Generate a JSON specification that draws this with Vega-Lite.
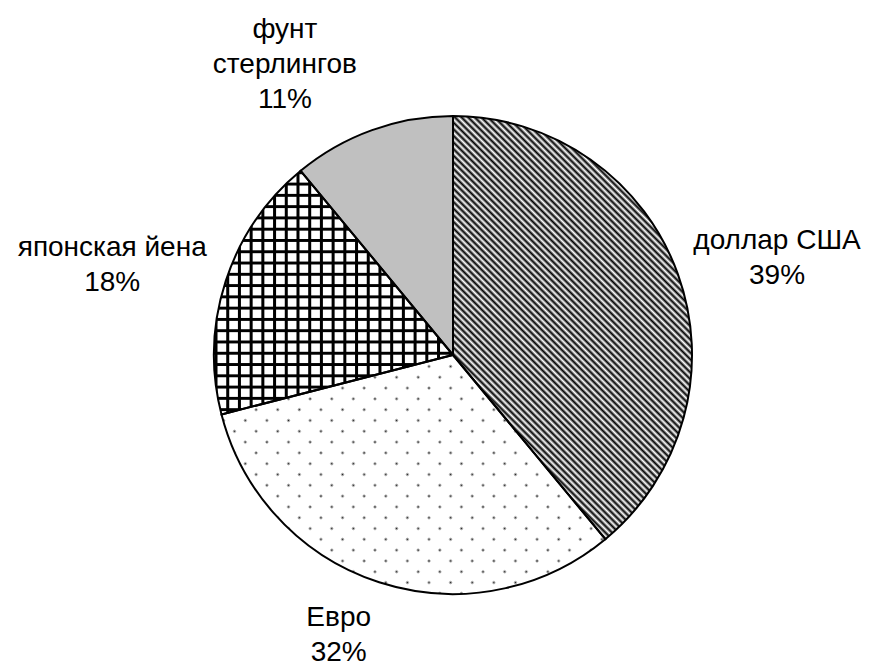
{
"$schema":"https://vega.github.io/schema/vega-lite/v6.json",
"width":478,"height":478,
"autosize":{"type":"none"},
"padding":{"left":214,"top":116,"right":177,"bottom":72},
"background":"#ffffff",
"view":{"stroke":null},
"data":{"values":[
{"currency":"доллар США","share":39,"order":1,"label":"доллар США\n39%"},
{"currency":"Евро","share":32,"order":2,"label":"Евро\n32%"},
{"currency":"японская йена","share":18,"order":3,"label":"японская йена\n18%"},
{"currency":"фунт стерлингов","share":11,"order":4,"label":"фунт\nстерлингов\n11%"}
]},
"encoding":{
"theta":{"field":"share","type":"quantitative","stack":true},
"order":{"field":"order","type":"quantitative"}
},
"layer":[
{"mark":{"type":"arc","stroke":null},
"encoding":{"fill":{"field":"currency","type":"nominal","legend":null,"scale":{"domain":["доллар США","Евро","японская йена","фунт стерлингов"],"range":["#ffffff","#ffffff","#ffffff","#c0c0c0"]}}}},
{"mark":{"type":"arc","stroke":null,"fill":{"gradient":"linear","x1":0,"y1":1,"x2":0.67,"y2":-0.1864,"stops":[
{"offset":0,"color":"#000"},{"offset":0.005,"color":"#fff"},{"offset":0.01,"color":"#000"},{"offset":0.015,"color":"#fff"},{"offset":0.02,"color":"#000"},{"offset":0.025,"color":"#fff"},{"offset":0.03,"color":"#000"},{"offset":0.035,"color":"#fff"},{"offset":0.04,"color":"#000"},{"offset":0.045,"color":"#fff"},
{"offset":0.05,"color":"#000"},{"offset":0.055,"color":"#fff"},{"offset":0.06,"color":"#000"},{"offset":0.065,"color":"#fff"},{"offset":0.07,"color":"#000"},{"offset":0.075,"color":"#fff"},{"offset":0.08,"color":"#000"},{"offset":0.085,"color":"#fff"},{"offset":0.09,"color":"#000"},{"offset":0.095,"color":"#fff"},
{"offset":0.1,"color":"#000"},{"offset":0.105,"color":"#fff"},{"offset":0.11,"color":"#000"},{"offset":0.115,"color":"#fff"},{"offset":0.12,"color":"#000"},{"offset":0.125,"color":"#fff"},{"offset":0.13,"color":"#000"},{"offset":0.135,"color":"#fff"},{"offset":0.14,"color":"#000"},{"offset":0.145,"color":"#fff"},
{"offset":0.15,"color":"#000"},{"offset":0.155,"color":"#fff"},{"offset":0.16,"color":"#000"},{"offset":0.165,"color":"#fff"},{"offset":0.17,"color":"#000"},{"offset":0.175,"color":"#fff"},{"offset":0.18,"color":"#000"},{"offset":0.185,"color":"#fff"},{"offset":0.19,"color":"#000"},{"offset":0.195,"color":"#fff"},
{"offset":0.2,"color":"#000"},{"offset":0.205,"color":"#fff"},{"offset":0.21,"color":"#000"},{"offset":0.215,"color":"#fff"},{"offset":0.22,"color":"#000"},{"offset":0.225,"color":"#fff"},{"offset":0.23,"color":"#000"},{"offset":0.235,"color":"#fff"},{"offset":0.24,"color":"#000"},{"offset":0.245,"color":"#fff"},
{"offset":0.25,"color":"#000"},{"offset":0.255,"color":"#fff"},{"offset":0.26,"color":"#000"},{"offset":0.265,"color":"#fff"},{"offset":0.27,"color":"#000"},{"offset":0.275,"color":"#fff"},{"offset":0.28,"color":"#000"},{"offset":0.285,"color":"#fff"},{"offset":0.29,"color":"#000"},{"offset":0.295,"color":"#fff"},
{"offset":0.3,"color":"#000"},{"offset":0.305,"color":"#fff"},{"offset":0.31,"color":"#000"},{"offset":0.315,"color":"#fff"},{"offset":0.32,"color":"#000"},{"offset":0.325,"color":"#fff"},{"offset":0.33,"color":"#000"},{"offset":0.335,"color":"#fff"},{"offset":0.34,"color":"#000"},{"offset":0.345,"color":"#fff"},
{"offset":0.35,"color":"#000"},{"offset":0.355,"color":"#fff"},{"offset":0.36,"color":"#000"},{"offset":0.365,"color":"#fff"},{"offset":0.37,"color":"#000"},{"offset":0.375,"color":"#fff"},{"offset":0.38,"color":"#000"},{"offset":0.385,"color":"#fff"},{"offset":0.39,"color":"#000"},{"offset":0.395,"color":"#fff"},
{"offset":0.4,"color":"#000"},{"offset":0.405,"color":"#fff"},{"offset":0.41,"color":"#000"},{"offset":0.415,"color":"#fff"},{"offset":0.42,"color":"#000"},{"offset":0.425,"color":"#fff"},{"offset":0.43,"color":"#000"},{"offset":0.435,"color":"#fff"},{"offset":0.44,"color":"#000"},{"offset":0.445,"color":"#fff"},
{"offset":0.45,"color":"#000"},{"offset":0.455,"color":"#fff"},{"offset":0.46,"color":"#000"},{"offset":0.465,"color":"#fff"},{"offset":0.47,"color":"#000"},{"offset":0.475,"color":"#fff"},{"offset":0.48,"color":"#000"},{"offset":0.485,"color":"#fff"},{"offset":0.49,"color":"#000"},{"offset":0.495,"color":"#fff"},
{"offset":0.5,"color":"#000"},{"offset":0.505,"color":"#fff"},{"offset":0.51,"color":"#000"},{"offset":0.515,"color":"#fff"},{"offset":0.52,"color":"#000"},{"offset":0.525,"color":"#fff"},{"offset":0.53,"color":"#000"},{"offset":0.535,"color":"#fff"},{"offset":0.54,"color":"#000"},{"offset":0.545,"color":"#fff"},
{"offset":0.55,"color":"#000"},{"offset":0.555,"color":"#fff"},{"offset":0.56,"color":"#000"},{"offset":0.565,"color":"#fff"},{"offset":0.57,"color":"#000"},{"offset":0.575,"color":"#fff"},{"offset":0.58,"color":"#000"},{"offset":0.585,"color":"#fff"},{"offset":0.59,"color":"#000"},{"offset":0.595,"color":"#fff"},
{"offset":0.6,"color":"#000"},{"offset":0.605,"color":"#fff"},{"offset":0.61,"color":"#000"},{"offset":0.615,"color":"#fff"},{"offset":0.62,"color":"#000"},{"offset":0.625,"color":"#fff"},{"offset":0.63,"color":"#000"},{"offset":0.635,"color":"#fff"},{"offset":0.64,"color":"#000"},{"offset":0.645,"color":"#fff"},
{"offset":0.65,"color":"#000"},{"offset":0.655,"color":"#fff"},{"offset":0.66,"color":"#000"},{"offset":0.665,"color":"#fff"},{"offset":0.67,"color":"#000"},{"offset":0.675,"color":"#fff"},{"offset":0.68,"color":"#000"},{"offset":0.685,"color":"#fff"},{"offset":0.69,"color":"#000"},{"offset":0.695,"color":"#fff"},
{"offset":0.7,"color":"#000"},{"offset":0.705,"color":"#fff"},{"offset":0.71,"color":"#000"},{"offset":0.715,"color":"#fff"},{"offset":0.72,"color":"#000"},{"offset":0.725,"color":"#fff"},{"offset":0.73,"color":"#000"},{"offset":0.735,"color":"#fff"},{"offset":0.74,"color":"#000"},{"offset":0.745,"color":"#fff"},
{"offset":0.75,"color":"#000"},{"offset":0.755,"color":"#fff"},{"offset":0.76,"color":"#000"},{"offset":0.765,"color":"#fff"},{"offset":0.77,"color":"#000"},{"offset":0.775,"color":"#fff"},{"offset":0.78,"color":"#000"},{"offset":0.785,"color":"#fff"},{"offset":0.79,"color":"#000"},{"offset":0.795,"color":"#fff"},
{"offset":0.8,"color":"#000"},{"offset":0.805,"color":"#fff"},{"offset":0.81,"color":"#000"},{"offset":0.815,"color":"#fff"},{"offset":0.82,"color":"#000"},{"offset":0.825,"color":"#fff"},{"offset":0.83,"color":"#000"},{"offset":0.835,"color":"#fff"},{"offset":0.84,"color":"#000"},{"offset":0.845,"color":"#fff"},
{"offset":0.85,"color":"#000"},{"offset":0.855,"color":"#fff"},{"offset":0.86,"color":"#000"},{"offset":0.865,"color":"#fff"},{"offset":0.87,"color":"#000"},{"offset":0.875,"color":"#fff"},{"offset":0.88,"color":"#000"},{"offset":0.885,"color":"#fff"},{"offset":0.89,"color":"#000"},{"offset":0.895,"color":"#fff"},
{"offset":0.9,"color":"#000"},{"offset":0.905,"color":"#fff"},{"offset":0.91,"color":"#000"},{"offset":0.915,"color":"#fff"},{"offset":0.92,"color":"#000"},{"offset":0.925,"color":"#fff"},{"offset":0.93,"color":"#000"},{"offset":0.935,"color":"#fff"},{"offset":0.94,"color":"#000"},{"offset":0.945,"color":"#fff"},
{"offset":0.95,"color":"#000"},{"offset":0.955,"color":"#fff"},{"offset":0.96,"color":"#000"},{"offset":0.965,"color":"#fff"},{"offset":0.97,"color":"#000"},{"offset":0.975,"color":"#fff"},{"offset":0.98,"color":"#000"},{"offset":0.985,"color":"#fff"},{"offset":0.99,"color":"#000"},{"offset":0.995,"color":"#fff"},
{"offset":1,"color":"#000"}]}},
"encoding":{"opacity":{"condition":{"test":"datum.currency === 'доллар США'","value":1},"value":0}}},
{"mark":{"type":"arc","stroke":null,"fill":{"gradient":"linear","x1":0,"y1":1,"x2":1.1693,"y2":0.2719,"stops":[
{"offset":0,"color":"#fff"},{"offset":0.0045,"color":"#222"},{"offset":0.009,"color":"#fff"},
{"offset":0.0347,"color":"#fff"},{"offset":0.0392,"color":"#222"},{"offset":0.0437,"color":"#fff"},
{"offset":0.0694,"color":"#fff"},{"offset":0.0739,"color":"#222"},{"offset":0.0784,"color":"#fff"},
{"offset":0.1041,"color":"#fff"},{"offset":0.1086,"color":"#222"},{"offset":0.1131,"color":"#fff"},
{"offset":0.1388,"color":"#fff"},{"offset":0.1433,"color":"#222"},{"offset":0.1478,"color":"#fff"},
{"offset":0.1735,"color":"#fff"},{"offset":0.178,"color":"#222"},{"offset":0.1825,"color":"#fff"},
{"offset":0.2082,"color":"#fff"},{"offset":0.2127,"color":"#222"},{"offset":0.2172,"color":"#fff"},
{"offset":0.2429,"color":"#fff"},{"offset":0.2474,"color":"#222"},{"offset":0.2519,"color":"#fff"},
{"offset":0.2776,"color":"#fff"},{"offset":0.2821,"color":"#222"},{"offset":0.2866,"color":"#fff"},
{"offset":0.3123,"color":"#fff"},{"offset":0.3168,"color":"#222"},{"offset":0.3213,"color":"#fff"},
{"offset":0.347,"color":"#fff"},{"offset":0.3515,"color":"#222"},{"offset":0.356,"color":"#fff"},
{"offset":0.3817,"color":"#fff"},{"offset":0.3862,"color":"#222"},{"offset":0.3907,"color":"#fff"},
{"offset":0.4164,"color":"#fff"},{"offset":0.4209,"color":"#222"},{"offset":0.4254,"color":"#fff"},
{"offset":0.4511,"color":"#fff"},{"offset":0.4556,"color":"#222"},{"offset":0.4601,"color":"#fff"},
{"offset":0.4858,"color":"#fff"},{"offset":0.4903,"color":"#222"},{"offset":0.4948,"color":"#fff"},
{"offset":0.5205,"color":"#fff"},{"offset":0.525,"color":"#222"},{"offset":0.5295,"color":"#fff"},
{"offset":0.5552,"color":"#fff"},{"offset":0.5597,"color":"#222"},{"offset":0.5642,"color":"#fff"},
{"offset":0.5899,"color":"#fff"},{"offset":0.5944,"color":"#222"},{"offset":0.5989,"color":"#fff"},
{"offset":0.6246,"color":"#fff"},{"offset":0.6291,"color":"#222"},{"offset":0.6336,"color":"#fff"},
{"offset":0.6593,"color":"#fff"},{"offset":0.6638,"color":"#222"},{"offset":0.6683,"color":"#fff"},
{"offset":0.694,"color":"#fff"},{"offset":0.6985,"color":"#222"},{"offset":0.703,"color":"#fff"},
{"offset":0.7287,"color":"#fff"},{"offset":0.7332,"color":"#222"},{"offset":0.7377,"color":"#fff"},
{"offset":0.7634,"color":"#fff"},{"offset":0.7679,"color":"#222"},{"offset":0.7724,"color":"#fff"},
{"offset":0.7981,"color":"#fff"},{"offset":0.8026,"color":"#222"},{"offset":0.8071,"color":"#fff"},
{"offset":0.8328,"color":"#fff"},{"offset":0.8373,"color":"#222"},{"offset":0.8418,"color":"#fff"},
{"offset":0.8675,"color":"#fff"},{"offset":0.872,"color":"#222"},{"offset":0.8765,"color":"#fff"},
{"offset":0.9022,"color":"#fff"},{"offset":0.9067,"color":"#222"},{"offset":0.9112,"color":"#fff"},
{"offset":0.9369,"color":"#fff"},{"offset":0.9414,"color":"#222"},{"offset":0.9459,"color":"#fff"},
{"offset":0.9716,"color":"#fff"},{"offset":0.9761,"color":"#222"},{"offset":0.9806,"color":"#fff"}]}},
"encoding":{"opacity":{"condition":{"test":"datum.currency === 'Евро'","value":1},"value":0}}},
{"mark":{"type":"arc","stroke":null,"fill":{"gradient":"linear","x1":0,"y1":0,"x2":1.1693,"y2":0.7281,"stops":[
{"offset":0,"color":"#fff"},{"offset":0.0045,"color":"rgba(255,255,255,0)"},{"offset":0.009,"color":"#fff"},
{"offset":0.0347,"color":"#fff"},{"offset":0.0392,"color":"rgba(255,255,255,0)"},{"offset":0.0437,"color":"#fff"},
{"offset":0.0694,"color":"#fff"},{"offset":0.0739,"color":"rgba(255,255,255,0)"},{"offset":0.0784,"color":"#fff"},
{"offset":0.1041,"color":"#fff"},{"offset":0.1086,"color":"rgba(255,255,255,0)"},{"offset":0.1131,"color":"#fff"},
{"offset":0.1388,"color":"#fff"},{"offset":0.1433,"color":"rgba(255,255,255,0)"},{"offset":0.1478,"color":"#fff"},
{"offset":0.1735,"color":"#fff"},{"offset":0.178,"color":"rgba(255,255,255,0)"},{"offset":0.1825,"color":"#fff"},
{"offset":0.2082,"color":"#fff"},{"offset":0.2127,"color":"rgba(255,255,255,0)"},{"offset":0.2172,"color":"#fff"},
{"offset":0.2429,"color":"#fff"},{"offset":0.2474,"color":"rgba(255,255,255,0)"},{"offset":0.2519,"color":"#fff"},
{"offset":0.2776,"color":"#fff"},{"offset":0.2821,"color":"rgba(255,255,255,0)"},{"offset":0.2866,"color":"#fff"},
{"offset":0.3123,"color":"#fff"},{"offset":0.3168,"color":"rgba(255,255,255,0)"},{"offset":0.3213,"color":"#fff"},
{"offset":0.347,"color":"#fff"},{"offset":0.3515,"color":"rgba(255,255,255,0)"},{"offset":0.356,"color":"#fff"},
{"offset":0.3817,"color":"#fff"},{"offset":0.3862,"color":"rgba(255,255,255,0)"},{"offset":0.3907,"color":"#fff"},
{"offset":0.4164,"color":"#fff"},{"offset":0.4209,"color":"rgba(255,255,255,0)"},{"offset":0.4254,"color":"#fff"},
{"offset":0.4511,"color":"#fff"},{"offset":0.4556,"color":"rgba(255,255,255,0)"},{"offset":0.4601,"color":"#fff"},
{"offset":0.4858,"color":"#fff"},{"offset":0.4903,"color":"rgba(255,255,255,0)"},{"offset":0.4948,"color":"#fff"},
{"offset":0.5205,"color":"#fff"},{"offset":0.525,"color":"rgba(255,255,255,0)"},{"offset":0.5295,"color":"#fff"},
{"offset":0.5552,"color":"#fff"},{"offset":0.5597,"color":"rgba(255,255,255,0)"},{"offset":0.5642,"color":"#fff"},
{"offset":0.5899,"color":"#fff"},{"offset":0.5944,"color":"rgba(255,255,255,0)"},{"offset":0.5989,"color":"#fff"},
{"offset":0.6246,"color":"#fff"},{"offset":0.6291,"color":"rgba(255,255,255,0)"},{"offset":0.6336,"color":"#fff"},
{"offset":0.6593,"color":"#fff"},{"offset":0.6638,"color":"rgba(255,255,255,0)"},{"offset":0.6683,"color":"#fff"},
{"offset":0.694,"color":"#fff"},{"offset":0.6985,"color":"rgba(255,255,255,0)"},{"offset":0.703,"color":"#fff"},
{"offset":0.7287,"color":"#fff"},{"offset":0.7332,"color":"rgba(255,255,255,0)"},{"offset":0.7377,"color":"#fff"},
{"offset":0.7634,"color":"#fff"},{"offset":0.7679,"color":"rgba(255,255,255,0)"},{"offset":0.7724,"color":"#fff"},
{"offset":0.7981,"color":"#fff"},{"offset":0.8026,"color":"rgba(255,255,255,0)"},{"offset":0.8071,"color":"#fff"},
{"offset":0.8328,"color":"#fff"},{"offset":0.8373,"color":"rgba(255,255,255,0)"},{"offset":0.8418,"color":"#fff"},
{"offset":0.8675,"color":"#fff"},{"offset":0.872,"color":"rgba(255,255,255,0)"},{"offset":0.8765,"color":"#fff"},
{"offset":0.9022,"color":"#fff"},{"offset":0.9067,"color":"rgba(255,255,255,0)"},{"offset":0.9112,"color":"#fff"},
{"offset":0.9369,"color":"#fff"},{"offset":0.9414,"color":"rgba(255,255,255,0)"},{"offset":0.9459,"color":"#fff"},
{"offset":0.9716,"color":"#fff"},{"offset":0.9761,"color":"rgba(255,255,255,0)"},{"offset":0.9806,"color":"#fff"}]}},
"encoding":{"opacity":{"condition":{"test":"datum.currency === 'Евро'","value":1},"value":0}}},
{"mark":{"type":"arc","stroke":null,"fill":{"gradient":"linear","x1":0,"y1":0,"x2":0,"y2":1,"stops":[
{"offset":0,"color":"#fff"},{"offset":0.004,"color":"#000"},{"offset":0.012,"color":"#000"},{"offset":0.016,"color":"#fff"},
{"offset":0.0463,"color":"#fff"},{"offset":0.0503,"color":"#000"},{"offset":0.0583,"color":"#000"},{"offset":0.0623,"color":"#fff"},
{"offset":0.0926,"color":"#fff"},{"offset":0.0966,"color":"#000"},{"offset":0.1046,"color":"#000"},{"offset":0.1086,"color":"#fff"},
{"offset":0.1389,"color":"#fff"},{"offset":0.1429,"color":"#000"},{"offset":0.1509,"color":"#000"},{"offset":0.1549,"color":"#fff"},
{"offset":0.1852,"color":"#fff"},{"offset":0.1892,"color":"#000"},{"offset":0.1972,"color":"#000"},{"offset":0.2012,"color":"#fff"},
{"offset":0.2315,"color":"#fff"},{"offset":0.2355,"color":"#000"},{"offset":0.2435,"color":"#000"},{"offset":0.2475,"color":"#fff"},
{"offset":0.2778,"color":"#fff"},{"offset":0.2818,"color":"#000"},{"offset":0.2898,"color":"#000"},{"offset":0.2938,"color":"#fff"},
{"offset":0.3241,"color":"#fff"},{"offset":0.3281,"color":"#000"},{"offset":0.3361,"color":"#000"},{"offset":0.3401,"color":"#fff"},
{"offset":0.3704,"color":"#fff"},{"offset":0.3744,"color":"#000"},{"offset":0.3824,"color":"#000"},{"offset":0.3864,"color":"#fff"},
{"offset":0.4167,"color":"#fff"},{"offset":0.4207,"color":"#000"},{"offset":0.4287,"color":"#000"},{"offset":0.4327,"color":"#fff"},
{"offset":0.463,"color":"#fff"},{"offset":0.467,"color":"#000"},{"offset":0.475,"color":"#000"},{"offset":0.479,"color":"#fff"},
{"offset":0.5093,"color":"#fff"},{"offset":0.5133,"color":"#000"},{"offset":0.5213,"color":"#000"},{"offset":0.5253,"color":"#fff"},
{"offset":0.5556,"color":"#fff"},{"offset":0.5596,"color":"#000"},{"offset":0.5676,"color":"#000"},{"offset":0.5716,"color":"#fff"},
{"offset":0.6019,"color":"#fff"},{"offset":0.6059,"color":"#000"},{"offset":0.6139,"color":"#000"},{"offset":0.6179,"color":"#fff"},
{"offset":0.6482,"color":"#fff"},{"offset":0.6522,"color":"#000"},{"offset":0.6602,"color":"#000"},{"offset":0.6642,"color":"#fff"},
{"offset":0.6945,"color":"#fff"},{"offset":0.6985,"color":"#000"},{"offset":0.7065,"color":"#000"},{"offset":0.7105,"color":"#fff"},
{"offset":0.7408,"color":"#fff"},{"offset":0.7448,"color":"#000"},{"offset":0.7528,"color":"#000"},{"offset":0.7568,"color":"#fff"},
{"offset":0.7871,"color":"#fff"},{"offset":0.7911,"color":"#000"},{"offset":0.7991,"color":"#000"},{"offset":0.8031,"color":"#fff"},
{"offset":0.8334,"color":"#fff"},{"offset":0.8374,"color":"#000"},{"offset":0.8454,"color":"#000"},{"offset":0.8494,"color":"#fff"},
{"offset":0.8797,"color":"#fff"},{"offset":0.8837,"color":"#000"},{"offset":0.8917,"color":"#000"},{"offset":0.8957,"color":"#fff"},
{"offset":0.926,"color":"#fff"},{"offset":0.93,"color":"#000"},{"offset":0.938,"color":"#000"},{"offset":0.942,"color":"#fff"},
{"offset":0.9723,"color":"#fff"},{"offset":0.9763,"color":"#000"},{"offset":0.9843,"color":"#000"},{"offset":0.9883,"color":"#fff"}]}},
"encoding":{"opacity":{"condition":{"test":"datum.currency === 'японская йена'","value":1},"value":0}}},
{"mark":{"type":"arc","stroke":null,"fill":{"gradient":"linear","x1":0,"y1":0,"x2":1,"y2":0,"stops":[
{"offset":0,"color":"rgba(0,0,0,0)"},{"offset":0.0042,"color":"#000"},{"offset":0.0126,"color":"#000"},{"offset":0.0168,"color":"rgba(0,0,0,0)"},
{"offset":0.049,"color":"rgba(0,0,0,0)"},{"offset":0.0532,"color":"#000"},{"offset":0.0616,"color":"#000"},{"offset":0.0658,"color":"rgba(0,0,0,0)"},
{"offset":0.098,"color":"rgba(0,0,0,0)"},{"offset":0.1022,"color":"#000"},{"offset":0.1106,"color":"#000"},{"offset":0.1148,"color":"rgba(0,0,0,0)"},
{"offset":0.147,"color":"rgba(0,0,0,0)"},{"offset":0.1512,"color":"#000"},{"offset":0.1596,"color":"#000"},{"offset":0.1638,"color":"rgba(0,0,0,0)"},
{"offset":0.196,"color":"rgba(0,0,0,0)"},{"offset":0.2002,"color":"#000"},{"offset":0.2086,"color":"#000"},{"offset":0.2128,"color":"rgba(0,0,0,0)"},
{"offset":0.245,"color":"rgba(0,0,0,0)"},{"offset":0.2492,"color":"#000"},{"offset":0.2576,"color":"#000"},{"offset":0.2618,"color":"rgba(0,0,0,0)"},
{"offset":0.294,"color":"rgba(0,0,0,0)"},{"offset":0.2982,"color":"#000"},{"offset":0.3066,"color":"#000"},{"offset":0.3108,"color":"rgba(0,0,0,0)"},
{"offset":0.343,"color":"rgba(0,0,0,0)"},{"offset":0.3472,"color":"#000"},{"offset":0.3556,"color":"#000"},{"offset":0.3598,"color":"rgba(0,0,0,0)"},
{"offset":0.392,"color":"rgba(0,0,0,0)"},{"offset":0.3962,"color":"#000"},{"offset":0.4046,"color":"#000"},{"offset":0.4088,"color":"rgba(0,0,0,0)"},
{"offset":0.441,"color":"rgba(0,0,0,0)"},{"offset":0.4452,"color":"#000"},{"offset":0.4536,"color":"#000"},{"offset":0.4578,"color":"rgba(0,0,0,0)"},
{"offset":0.49,"color":"rgba(0,0,0,0)"},{"offset":0.4942,"color":"#000"},{"offset":0.5026,"color":"#000"},{"offset":0.5068,"color":"rgba(0,0,0,0)"},
{"offset":0.539,"color":"rgba(0,0,0,0)"},{"offset":0.5432,"color":"#000"},{"offset":0.5516,"color":"#000"},{"offset":0.5558,"color":"rgba(0,0,0,0)"},
{"offset":0.588,"color":"rgba(0,0,0,0)"},{"offset":0.5922,"color":"#000"},{"offset":0.6006,"color":"#000"},{"offset":0.6048,"color":"rgba(0,0,0,0)"},
{"offset":0.637,"color":"rgba(0,0,0,0)"},{"offset":0.6412,"color":"#000"},{"offset":0.6496,"color":"#000"},{"offset":0.6538,"color":"rgba(0,0,0,0)"},
{"offset":0.686,"color":"rgba(0,0,0,0)"},{"offset":0.6902,"color":"#000"},{"offset":0.6986,"color":"#000"},{"offset":0.7028,"color":"rgba(0,0,0,0)"},
{"offset":0.735,"color":"rgba(0,0,0,0)"},{"offset":0.7392,"color":"#000"},{"offset":0.7476,"color":"#000"},{"offset":0.7518,"color":"rgba(0,0,0,0)"},
{"offset":0.784,"color":"rgba(0,0,0,0)"},{"offset":0.7882,"color":"#000"},{"offset":0.7966,"color":"#000"},{"offset":0.8008,"color":"rgba(0,0,0,0)"},
{"offset":0.833,"color":"rgba(0,0,0,0)"},{"offset":0.8372,"color":"#000"},{"offset":0.8456,"color":"#000"},{"offset":0.8498,"color":"rgba(0,0,0,0)"},
{"offset":0.882,"color":"rgba(0,0,0,0)"},{"offset":0.8862,"color":"#000"},{"offset":0.8946,"color":"#000"},{"offset":0.8988,"color":"rgba(0,0,0,0)"},
{"offset":0.931,"color":"rgba(0,0,0,0)"},{"offset":0.9352,"color":"#000"},{"offset":0.9436,"color":"#000"},{"offset":0.9478,"color":"rgba(0,0,0,0)"},
{"offset":0.98,"color":"rgba(0,0,0,0)"},{"offset":0.9842,"color":"#000"},{"offset":0.9926,"color":"#000"},{"offset":0.9968,"color":"rgba(0,0,0,0)"}]}},
"encoding":{"opacity":{"condition":{"test":"datum.currency === 'японская йена'","value":1},"value":0}}},
{"mark":{"type":"arc","fill":"transparent","stroke":"#000","strokeWidth":2}},
{"mark":{"type":"text","radius":338,"dx":6,"dy":0,"font":"Liberation Sans","fontSize":28,"lineBreak":"\n","lineHeight":35,"fill":"#000","align":"center","baseline":"middle"},
"encoding":{"text":{"condition":{"test":"datum.currency === 'доллар США'","field":"label","type":"nominal"},"value":""}}},
{"mark":{"type":"text","radius":302,"dx":-21,"dy":-24,"font":"Liberation Sans","fontSize":28,"lineBreak":"\n","lineHeight":35,"fill":"#000","align":"center","baseline":"middle"},
"encoding":{"text":{"condition":{"test":"datum.currency === 'Евро'","field":"label","type":"nominal"},"value":""}}},
{"mark":{"type":"text","radius":352,"dx":-6,"dy":2,"font":"Liberation Sans","fontSize":28,"lineBreak":"\n","lineHeight":35,"fill":"#000","align":"center","baseline":"middle"},
"encoding":{"text":{"condition":{"test":"datum.currency === 'японская йена'","field":"label","type":"nominal"},"value":""}}},
{"mark":{"type":"text","radius":328,"dx":-57,"dy":-16,"font":"Liberation Sans","fontSize":28,"lineBreak":"\n","lineHeight":35,"fill":"#000","align":"center","baseline":"middle"},
"encoding":{"text":{"condition":{"test":"datum.currency === 'фунт стерлингов'","field":"label","type":"nominal"},"value":""}}}
]
}
